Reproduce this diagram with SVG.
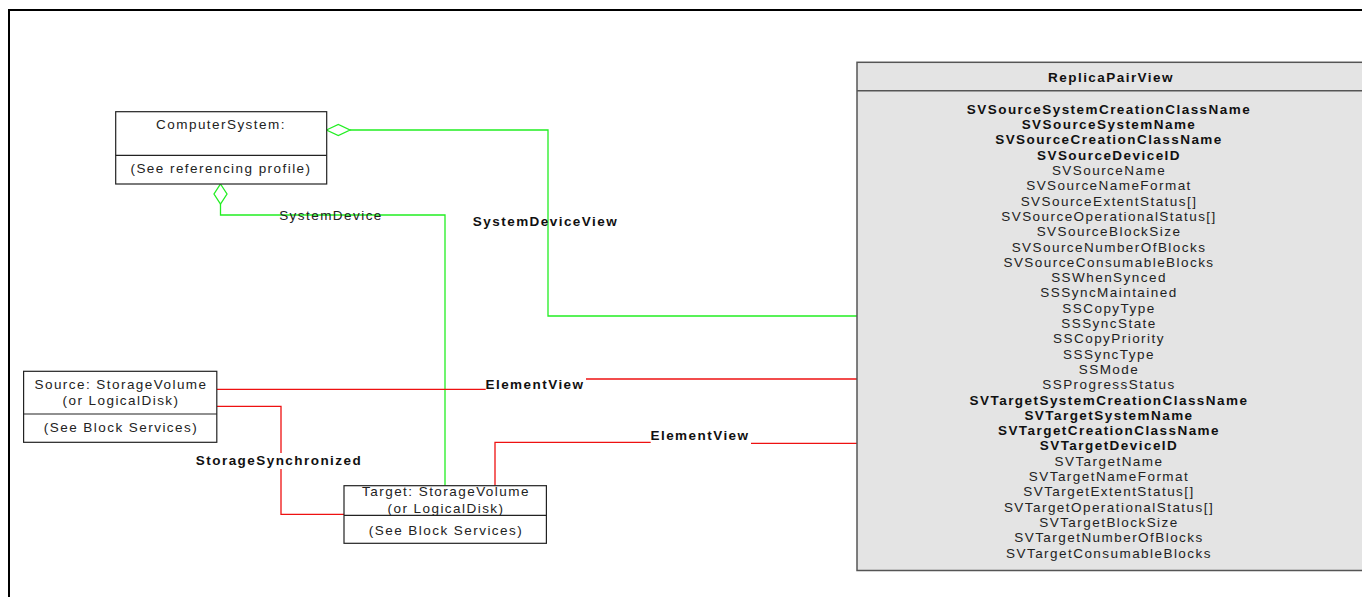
<svg xmlns="http://www.w3.org/2000/svg" width="1362" height="597" viewBox="0 0 1362 597">
<style>
text{font-family:"Liberation Sans",Arial,sans-serif;font-size:13.5px;letter-spacing:1.45px;text-anchor:middle;fill:#222}
.b{font-weight:bold;fill:#111}
.box{fill:#fff;stroke:#222;stroke-width:1.2}
.g{fill:none;stroke:#22ee22;stroke-width:1.3}
.r{fill:none;stroke:#ee1111;stroke-width:1.3}
</style>
<rect x="0" y="0" width="1362" height="597" fill="#fff"/>
<path d="M9 597 V10 H1362" fill="none" stroke="#000" stroke-width="2"/>

<g id="connectors">
<path class="g" d="M350 130 H548 V316 H857"/>
<polygon points="326.5,130 338.3,124.5 350,130 338.3,135.5" fill="#fff" stroke="#22ee22" stroke-width="1.3"/>
<path class="g" d="M220.5 204 V215 H445 V485.7"/>
<polygon points="220.5,184 227,194 220.5,204 214,194" fill="#fff" stroke="#22ee22" stroke-width="1.3"/>
<path class="r" d="M217 389.3 H485.7"/>
<path class="r" d="M586 379 H857"/>
<path class="r" d="M217 406.3 H281 V453"/>
<path class="r" d="M281 469 V514.3 H344"/>
<path class="r" d="M495 485.7 V442.3 H650.7"/>
<path class="r" d="M751 443.3 H857"/>
<text x="331" y="219.8">SystemDevice</text>
<text class="b" x="545.5" y="225.8">SystemDeviceView</text>
<text class="b" x="535" y="388.8">ElementView</text>
<text class="b" x="700" y="439.8">ElementView</text>
<text class="b" x="279" y="464.8">StorageSynchronized</text>
</g>

<g id="computer-system">
<rect class="box" x="115.7" y="111.7" width="211" height="72.3"/>
<line x1="115.7" y1="155.3" x2="326.7" y2="155.3" stroke="#222" stroke-width="1.2"/>
<text x="221" y="128.8">ComputerSystem:</text>
<text x="221" y="173.3">(See referencing profile)</text>
</g>

<g id="source-volume">
<rect class="box" x="23.6" y="371.3" width="193.2" height="71"/>
<line x1="23.6" y1="414" x2="216.8" y2="414" stroke="#222" stroke-width="1.2"/>
<text x="121" y="388.8">Source: StorageVolume</text>
<text x="121" y="404.8">(or LogicalDisk)</text>
<text x="121" y="432.3">(See Block Services)</text>
</g>

<g id="target-volume">
<rect class="box" x="344" y="485.7" width="202.4" height="57.6"/>
<line x1="344" y1="515.3" x2="546.4" y2="515.3" stroke="#222" stroke-width="1.2"/>
<text x="446" y="496.3">Target: StorageVolume</text>
<text x="446" y="512.8">(or LogicalDisk)</text>
<text x="446" y="534.8">(See Block Services)</text>
</g>

<g id="replica-pair-view">
<rect x="857" y="62.3" width="520" height="508.2" fill="#e4e4e4" stroke="#555" stroke-width="1.5"/>
<line x1="857" y1="90.7" x2="1362" y2="90.7" stroke="#555" stroke-width="1.5"/>
<text class="b" x="1111" y="82.3">ReplicaPairView</text>
<text class="b" x="1109" y="113.8">SVSourceSystemCreationClassName</text>
<text class="b" x="1109" y="129.1">SVSourceSystemName</text>
<text class="b" x="1109" y="144.4">SVSourceCreationClassName</text>
<text class="b" x="1109" y="159.7">SVSourceDeviceID</text>
<text x="1109" y="175">SVSourceName</text>
<text x="1109" y="190.3">SVSourceNameFormat</text>
<text x="1109" y="205.6">SVSourceExtentStatus[]</text>
<text x="1109" y="220.9">SVSourceOperationalStatus[]</text>
<text x="1109" y="236.2">SVSourceBlockSize</text>
<text x="1109" y="251.5">SVSourceNumberOfBlocks</text>
<text x="1109" y="266.8">SVSourceConsumableBlocks</text>
<text x="1109" y="282.1">SSWhenSynced</text>
<text x="1109" y="297.4">SSSyncMaintained</text>
<text x="1109" y="312.7">SSCopyType</text>
<text x="1109" y="328">SSSyncState</text>
<text x="1109" y="343.3">SSCopyPriority</text>
<text x="1109" y="358.6">SSSyncType</text>
<text x="1109" y="373.9">SSMode</text>
<text x="1109" y="389.2">SSProgressStatus</text>
<text class="b" x="1109" y="404.5">SVTargetSystemCreationClassName</text>
<text class="b" x="1109" y="419.8">SVTargetSystemName</text>
<text class="b" x="1109" y="435.1">SVTargetCreationClassName</text>
<text class="b" x="1109" y="450.4">SVTargetDeviceID</text>
<text x="1109" y="465.7">SVTargetName</text>
<text x="1109" y="481">SVTargetNameFormat</text>
<text x="1109" y="496.3">SVTargetExtentStatus[]</text>
<text x="1109" y="511.6">SVTargetOperationalStatus[]</text>
<text x="1109" y="526.9">SVTargetBlockSize</text>
<text x="1109" y="542.2">SVTargetNumberOfBlocks</text>
<text x="1109" y="557.5">SVTargetConsumableBlocks</text>
</g>
</svg>
